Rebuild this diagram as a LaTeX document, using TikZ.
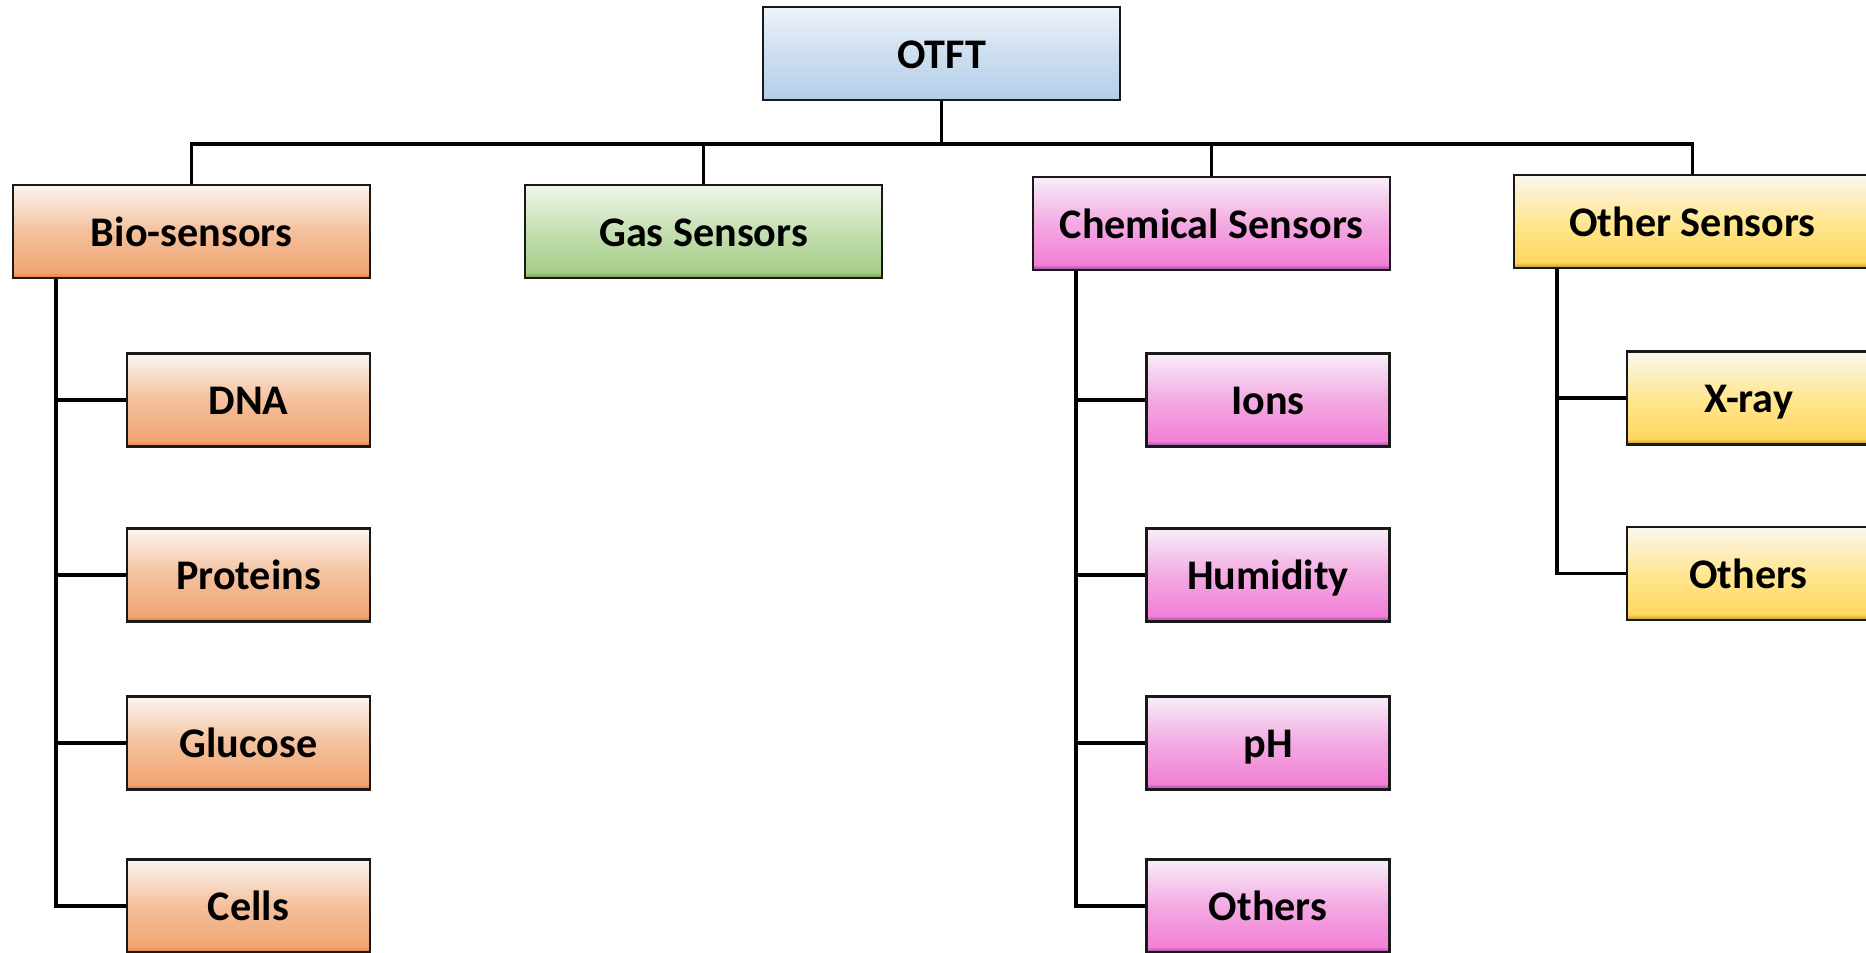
\documentclass[tikz,border=0pt]{standalone}
\usepackage{fontspec}
\setmainfont{Carlito}

\definecolor{bluT}{RGB}{238,243,250}
\definecolor{bluM}{RGB}{205,222,240}
\definecolor{bluB}{RGB}{180,206,233}
\definecolor{orT}{RGB}{250,245,241}
\definecolor{orM}{RGB}{244,192,155}
\definecolor{orB}{RGB}{241,165,115}
\definecolor{orS}{RGB}{232,122,50}
\definecolor{grT}{RGB}{240,246,236}
\definecolor{grM}{RGB}{196,223,177}
\definecolor{grB}{RGB}{166,205,136}
\definecolor{grS}{RGB}{108,160,68}
\definecolor{pkT}{RGB}{248,238,248}
\definecolor{pkM}{RGB}{243,170,226}
\definecolor{pkB}{RGB}{242,128,215}
\definecolor{pkS}{RGB}{150,72,160}
\definecolor{ylT}{RGB}{250,248,238}
\definecolor{ylM}{RGB}{255,230,145}
\definecolor{ylB}{RGB}{255,215,95}
\definecolor{ylS}{RGB}{190,145,20}

\pgfdeclareverticalshading{blueshade}{100bp}{color(0bp)=(bluB); color(25bp)=(bluB); color(50bp)=(bluM); color(75bp)=(bluT); color(100bp)=(bluT)}
\pgfdeclareverticalshading{orangeshade}{100bp}{color(0bp)=(orS); color(25bp)=(orS); color(28bp)=(orB); color(50bp)=(orM); color(75bp)=(orT); color(100bp)=(orT)}
\pgfdeclareverticalshading{greenshade}{100bp}{color(0bp)=(grS); color(25bp)=(grS); color(28bp)=(grB); color(50bp)=(grM); color(75bp)=(grT); color(100bp)=(grT)}
\pgfdeclareverticalshading{pinkshade}{100bp}{color(0bp)=(pkS); color(25bp)=(pkS); color(28bp)=(pkB); color(50bp)=(pkM); color(75bp)=(pkT); color(100bp)=(pkT)}
\pgfdeclareverticalshading{yellowshade}{100bp}{color(0bp)=(ylS); color(25bp)=(ylS); color(28bp)=(ylB); color(50bp)=(ylM); color(75bp)=(ylT); color(100bp)=(ylT)}

\begin{document}
\begin{tikzpicture}

      \useasboundingbox (0,0) rectangle (18.66,9.52);

      \begin{scope}[every node/.style={rectangle,draw=black!90,line width=0.7pt,
          minimum width=3.57cm,minimum height=0.93cm,inner sep=0pt,
          text height=8.4pt,text depth=0pt,
          font=\fontsize{12}{14}\selectfont\bfseries}]
        \node[shading=blueshade]   (otft)  at (9.415,8.985) {OTFT};
        \node[shading=orangeshade] (bio)   at (1.915,7.205) {Bio-sensors};
        \node[shading=greenshade]  (gas)   at (7.035,7.205) {Gas Sensors};
        \node[shading=pinkshade]   (chem)  at (12.115,7.285) {Chemical Sensors};
        \node[shading=yellowshade] (other) at (16.925,7.305) {Other Sensors};
      \end{scope}

      \begin{scope}[every node/.style={rectangle,draw=black!90,line width=0.7pt,
          minimum width=2.43cm,minimum height=0.93cm,inner sep=0pt,
          text height=8.4pt,text depth=0pt,
          font=\fontsize{12}{14}\selectfont\bfseries}]
        \node[shading=orangeshade] (dna)      at (2.485,5.52) {DNA};
        \node[shading=orangeshade] (proteins) at (2.485,3.77) {Proteins};
        \node[shading=orangeshade] (glucose)  at (2.485,2.09) {Glucose};
        \node[shading=orangeshade] (cells)    at (2.485,0.46) {Cells};

        \node[shading=pinkshade] (ions)     at (12.68,5.52) {Ions};
        \node[shading=pinkshade] (humidity) at (12.68,3.77) {Humidity};
        \node[shading=pinkshade] (ph)       at (12.68,2.09) {pH};
        \node[shading=pinkshade] (chemoth)  at (12.68,0.46) {Others};

        \node[shading=yellowshade] (xray)     at (17.485,5.54) {X-ray};
        \node[shading=yellowshade] (otheroth) at (17.485,3.785) {Others};
      \end{scope}

      \begin{scope}[line width=1.1pt]
        \foreach \c in {bio,gas,chem,other}
          \draw (otft.south) -- ++(0,-0.43) -| (\c.north);

        \foreach \p/\c in {bio/dna,bio/proteins,bio/glucose,bio/cells,
                           chem/ions,chem/humidity,chem/ph,chem/chemoth,
                           other/xray,other/otheroth}
          \draw ([xshift=4.4mm]\p.south west) |- (\c.west);
      \end{scope}

    \end{tikzpicture}
\end{document}
